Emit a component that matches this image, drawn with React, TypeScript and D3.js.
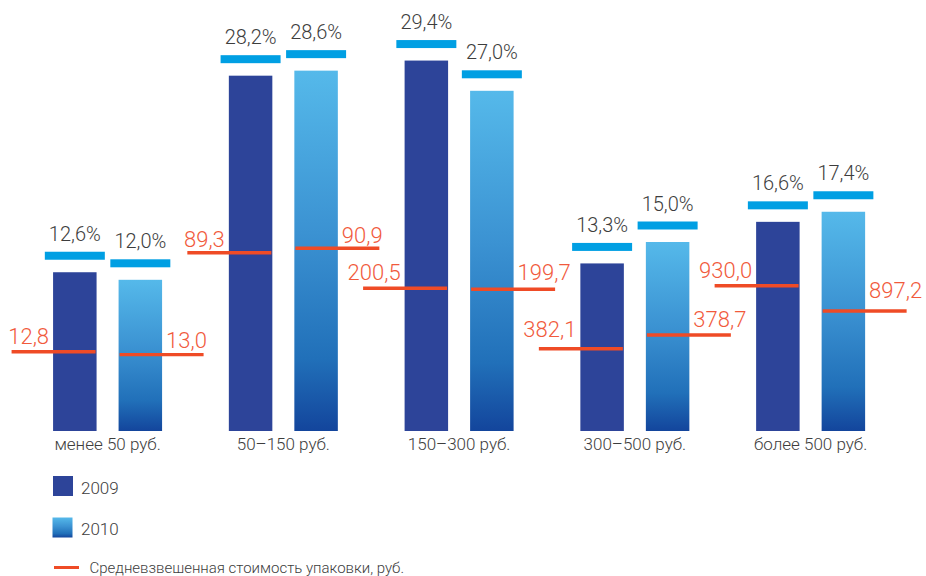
import React from "react";
import * as d3 from "d3";

const categories = ["менее 50 руб.", "50–150 руб.", "150–300 руб.", "300–500 руб.", "более 500 руб."];
const years = ["2009", "2010"];
const share2009 = [12.6, 28.2, 29.4, 13.3, 16.6];
const share2010 = [12.0, 28.6, 27.0, 15.0, 17.4];
const price2009 = ["12,8", "89,3", "200,5", "382,1", "930,0"];
const price2010 = ["13,0", "90,9", "199,7", "378,7", "897,2"];
// level (in share-axis units) at which each price marker is drawn in the picture
const priceLevel2009 = [6.29, 14.15, 11.33, 6.53, 11.53];
const priceLevel2010 = [6.06, 14.5, 11.25, 7.62, 9.52];
const legendPriceLabel = "Средневзвешенная стоимость упаковки, руб.";

// layout nudges for the price labels (px above the marker line)
const priceLabelLift2009 = [7.7, 6, 8.3, 11.4, 7.4];
const priceLabelLift2010 = [6.4, 5, 9.3, 8.3, 12.7];

const W = 926;
const H = 576;
const FONT = "Roboto, 'Noto Sans', sans-serif";
const C2009 = "#2d4499";
const CAP = "#009fe3";
const RED = "#ef4b26";
const RED_TEXT = "#f15a3c";
const TXT = "#3d3d3d";

export default function App() {
  const x = d3.scaleBand<string>().domain(categories).range([19.7, 898.5]).padding(0);
  const inner = d3.scaleBand<string>().domain(years).range([0, 109]).paddingInner(0.336).paddingOuter(0);
  const y = d3.scaleLinear().domain([0, 30]).range([431, 53]);
  const bw = inner.bandwidth();

  const series = [
    { year: "2009", share: share2009, price: price2009, level: priceLevel2009, lift: priceLabelLift2009 },
    { year: "2010", share: share2010, price: price2010, level: priceLevel2010, lift: priceLabelLift2010 },
  ];

  return (
    <svg
      width={W}
      height={H}
      viewBox={`0 0 ${W} ${H}`}
      style={{ position: "absolute", left: 0, top: 0, background: "#fff" }}
      fontFamily={FONT}
    >
      <defs>
        <linearGradient id="g2010" x1="0" y1="0" x2="0" y2="1">
          <stop offset="0%" stopColor="#55b9ea" />
          <stop offset="45%" stopColor="#3b92d2" />
          <stop offset="80%" stopColor="#2170b9" />
          <stop offset="100%" stopColor="#13459c" />
        </linearGradient>
      </defs>

      {categories.map((cat, i) => {
        const cx = (x(cat) ?? 0) + x.bandwidth() / 2;
        const gx0 = cx - 54.5;
        return (
          <g key={cat}>
            {series.map((s) => {
              const bx = gx0 + (inner(s.year) ?? 0);
              const v = s.share[i];
              const top = y(v);
              const capTop = top - 20.5;
              return (
                <g key={s.year}>
                  <rect
                    x={bx}
                    y={top}
                    width={bw}
                    height={y(0) - top}
                    fill={s.year === "2009" ? C2009 : "url(#g2010)"}
                  />
                  <rect x={bx + bw / 2 - 30} y={capTop} width={60} height={8} fill={CAP} />
                  <text
                    x={bx + bw / 2}
                    y={capTop - 11}
                    textAnchor="middle"
                    fontSize={20}
                    fontWeight={300}
                    fill={TXT}
                  >
                    {String(v.toFixed(1)).replace(".", ",") + "%"}
                  </text>
                </g>
              );
            })}
            {series.map((s) => {
              const bx = gx0 + (inner(s.year) ?? 0);
              const ly = y(s.level[i]);
              const is09 = s.year === "2009";
              const x1 = is09 ? bx + bw - 85 : bx + 1;
              const x2 = is09 ? bx + bw - 1 : bx + 85;
              return (
                <g key={"p" + s.year}>
                  <line x1={x1} x2={x2} y1={ly} y2={ly} stroke={RED} strokeWidth={3.4} />
                  <text
                    x={is09 ? bx - 4 : bx + bw + 4}
                    y={ly - s.lift[i]}
                    textAnchor={is09 ? "end" : "start"}
                    fontSize={22}
                    fontWeight={300}
                    fill={RED_TEXT}
                  >
                    {s.price[i]}
                  </text>
                </g>
              );
            })}
            <text x={cx} y={450} textAnchor="middle" fontSize={17} fontWeight={300} fill={TXT}>
              {cat}
            </text>
          </g>
        );
      })}

      {/* legend */}
      <rect x={53} y={476} width={20} height={20} fill={C2009} />
      <text x={81} y={493.5} fontSize={17} fontWeight={300} fill={TXT}>
        {years[0]}
      </text>
      <rect x={52.5} y={517.5} width={20} height={20} fill="url(#g2010)" />
      <text x={81} y={535} fontSize={17} fontWeight={300} fill={TXT}>
        {years[1]}
      </text>
      <line x1={54} x2={79} y1={567.5} y2={567.5} stroke={RED} strokeWidth={3} />
      <text x={89.5} y={572.5} fontSize={15} fontWeight={300} fill={TXT}>
        {legendPriceLabel}
      </text>
    </svg>
  );
}
